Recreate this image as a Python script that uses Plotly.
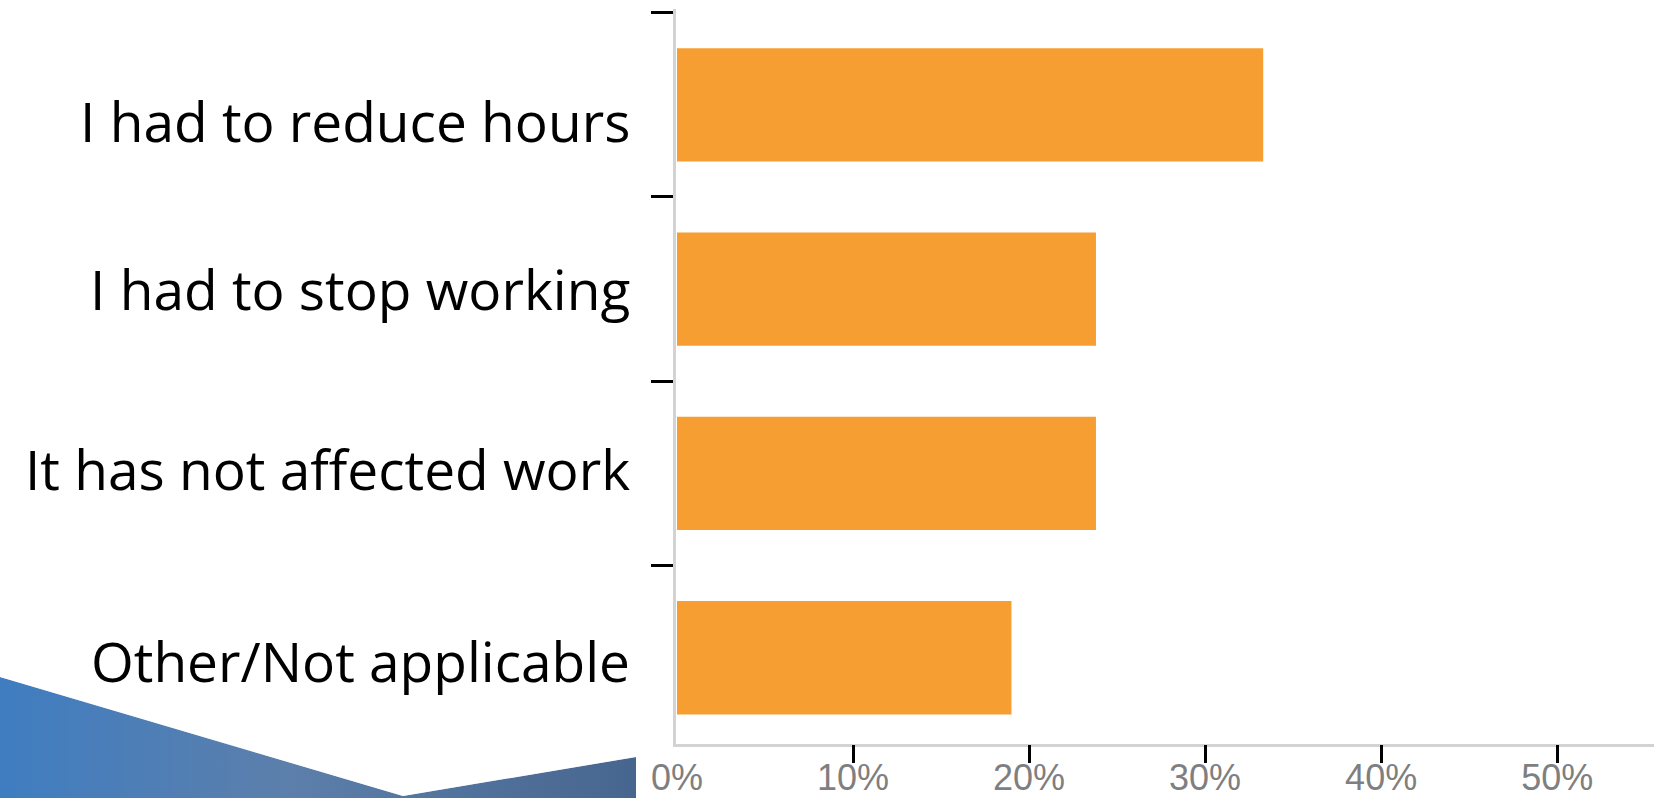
import base64
import plotly.graph_objects as go

# ---- data ----
categories = ["I had to reduce hours", "I had to stop working",
              "It has not affected work", "Other/Not applicable"]
values = [33.3, 23.8, 23.8, 19.0]
tick_vals = [0, 10, 20, 30, 40, 50]
tick_text = ["0%", "10%", "20%", "30%", "40%", "50%"]
minor_tick_vals = [10, 20, 30, 40, 50]

# ---- style / layout constants ----
W, H = 1654, 798
ML, MR, MT, MB = 676, 0, 9, 54
PW, PH = W - ML - MR, H - MT - MB
label_shift = [-16, 1, 5, -3]   # per-label vertical nudge (px)

# decorative slide background shape (gradient polygon) as inline SVG
svg = f'''<svg xmlns="http://www.w3.org/2000/svg" width="{W}" height="{H}" viewBox="0 0 {W} {H}">
<defs><linearGradient id="g" gradientUnits="userSpaceOnUse" x1="0" y1="0" x2="636" y2="0">
<stop offset="0" stop-color="#3f7dc1"/><stop offset="0.45" stop-color="#5c7fab"/>
<stop offset="1" stop-color="#47668f"/></linearGradient></defs>
<polygon points="0,677 403,796 636,757 636,798 0,798" fill="url(#g)"/>
<polyline points="0,676 403,795 636,756" fill="none" stroke="#ffffff" stroke-opacity="0.6" stroke-width="2"/>
</svg>'''
svg_uri = "data:image/svg+xml;base64," + base64.b64encode(svg.encode()).decode()

fig = go.Figure()
fig.add_trace(go.Bar(
    x=values, y=categories, orientation="h",
    marker=dict(color="#F79E32", line=dict(width=0)),
    width=0.615, showlegend=False, hoverinfo="x+y",
))
# dummy trace for overlay axis that carries the tick marks
fig.add_trace(go.Scatter(x=[None], y=[None], xaxis="x2", showlegend=False,
                         hoverinfo="skip"))

x_range = [-0.057, 55.5]
fig.update_layout(
    width=W, height=H,
    margin=dict(l=ML, r=MR, t=MT, b=MB, pad=0),
    paper_bgcolor="white", plot_bgcolor="white",
    bargap=0.385,
    xaxis=dict(range=x_range, tickvals=tick_vals, ticktext=tick_text,
               ticks="outside", ticklen=0, tickcolor="rgba(0,0,0,0)",
               showgrid=False, zeroline=False, automargin=False,
               showline=True, linecolor="#d3d3d3", linewidth=3,
               tickfont=dict(family="Liberation Sans", size=36, color="#7f7f7f"),
               fixedrange=True),
    xaxis2=dict(range=x_range, overlaying="x", anchor="y", side="bottom",
                tickvals=minor_tick_vals, showticklabels=False, automargin=False,
                ticks="outside", ticklen=18, tickwidth=3, tickcolor="black",
                showgrid=False, zeroline=False, showline=False, fixedrange=True),
    yaxis=dict(type="category", categoryorder="array", categoryarray=categories,
               range=[3.468, -0.52], tickson="boundaries", automargin=False,
               ticks="outside", ticklen=22, tickwidth=3, tickcolor="black",
               showticklabels=False, showgrid=False, zeroline=False,
               showline=True, linecolor="#d3d3d3", linewidth=3, fixedrange=True),
    images=[dict(source=svg_uri, xref="paper", yref="paper",
                 x=-ML / PW, y=1 + MT / PH, sizex=W / PW, sizey=H / PH,
                 xanchor="left", yanchor="top", sizing="stretch", layer="below")],
)

for cat, dy in zip(categories, label_shift):
    fig.add_annotation(
        x=0, xref="paper", y=cat, yref="y", xanchor="right", yanchor="middle",
        xshift=-44, yshift=dy, showarrow=False, text=cat,
        font=dict(family="Open Sans", size=55, color="black"),
    )

fig.write_html(
    "out.html",
    config={"displayModeBar": False},
    post_script="document.body.style.margin='0';document.body.style.overflow='hidden';",
)
